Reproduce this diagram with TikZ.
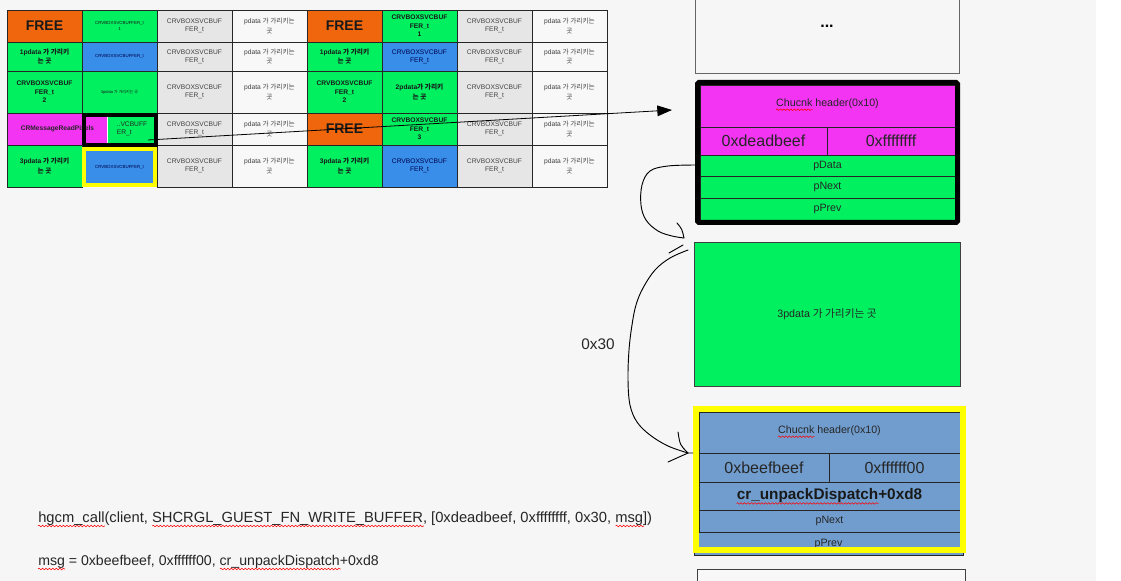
\documentclass[tikz,border=0pt]{standalone}
\usepackage{fontspec}
\setmainfont{Liberation Sans}
\newfontfamily\krfont{Noto Sans CJK KR}
\usetikzlibrary{arrows.meta,decorations.pathmorphing}
\definecolor{bgc}{RGB}{246,246,246}
\definecolor{cOr}{RGB}{240,102,12}
\definecolor{cGr}{RGB}{0,240,96}
\definecolor{cMg}{RGB}{243,52,243}
\definecolor{cBl}{RGB}{56,142,232}
\definecolor{cBg}{RGB}{112,157,206}
\definecolor{cGy}{RGB}{230,230,230}
\definecolor{cWh}{RGB}{248,248,248}
\definecolor{cYl}{RGB}{255,255,0}
\newcommand\kr[1]{{\krfont #1}}
\newcommand\fsz[2]{\fontsize{#1pt}{#2pt}\selectfont}
\newcommand\px[1]{#1*0.75pt}
\begin{document}
\begin{tikzpicture}[x=0.75pt,y=-0.75pt,
  cell/.style={draw=black!85, line width=0.6pt, inner sep=0pt, align=center, text=black!80, font=\fsz{5}{6}, minimum width=\px{75}},
  ha/.style={minimum height=\px{32}},
  hb/.style={minimum height=\px{29}},
  hc/.style={minimum height=\px{42}},
  bfree/.style={cell, fill=cOr, font=\bfseries\fsz{10.5}{12}, text=black!90},
  gcell/.style={cell, fill=cGr, font=\bfseries\fsz{5}{6.5}, text=black!90},
  tinyt/.style={font=\fsz{3.3}{4}},
  greyc/.style={cell, fill=cGy, text=black!75},
  whc/.style={cell, fill=cWh, text=black!75},
  bluec/.style={cell, fill=cBl, text=blue!30!black},
  rrow/.style={draw=black!85, line width=0.6pt, inner sep=0pt, align=center, font=\fsz{8}{9.6}, text=black!85},
  bigt/.style={font=\fsz{12}{14}},
  hand/.style={line width=0.7pt, black, line cap=round, line join=round},
  wavy/.style={red, line width=0.4pt, decorate, decoration={snake, amplitude=0.6pt, segment length=2.6pt}},
  plain/.style={inner sep=0pt, anchor=base west, text=black!85},
  ph/.style={inner sep=0pt, anchor=base west}
]
\useasboundingbox (0,0) rectangle (1121,581);
\fill[white] (0,0) rectangle (1121,581);
\fill[bgc] (0,0) rectangle (1096,581);

% ---------------- grid -----------------
\foreach \r/\y/\h in {1/26/ha,2/56.5/hb,3/92/hc,4/129/ha,5/166/hc}{
  \node[greyc,\h] (g\r c) at (194.5,\y) {CRVBOXSVCBUF\\FER\_t};
  \node[whc,\h,font=\fsz{5}{7}] (g\r d) at (269.5,\y) {pdata \kr{가 가리키는}\\\kr{곳}};
  \node[greyc,\h] (g\r g) at (494.5,\y) {CRVBOXSVCBUF\\FER\_t};
  \node[whc,\h,font=\fsz{5}{7}] (g\r h) at (569.5,\y) {pdata \kr{가 가리키는}\\\kr{곳}};
}
% row 1
\node[bfree,ha] (g1a) at (44.5,26) {FREE};
\node[gcell,ha,tinyt] (g1b) at (119.5,26) {CRVBOXSVCBUFFER\_t\\1};
\node[bfree,ha] (g1e) at (344.5,26) {FREE};
\node[gcell,ha] (g1f) at (419.5,26) {CRVBOXSVCBUF\\FER\_t\\1};
% row 2
\node[gcell,hb,font=\bfseries\fsz{5}{7}] (g2a) at (44.5,56.5) {1pdata \kr{가 가리키}\\\kr{는 곳}};
\node[bluec,hb,tinyt] (g2b) at (119.5,56.5) {CRVBOXSVCBUFFER\_t};
\node[gcell,hb,font=\bfseries\fsz{5}{7}] (g2e) at (344.5,56.5) {1pdata \kr{가 가리키}\\\kr{는 곳}};
\node[bluec,hb] (g2f) at (419.5,56.5) {CRVBOXSVCBUF\\FER\_t};
% row 3
\node[gcell,hc] (g3a) at (44.5,92) {CRVBOXSVCBUF\\FER\_t\\2};
\node[gcell,hc,font=\fsz{3}{4}] (g3b) at (119.5,92) {3pdata \kr{가 가리키는 곳}};
\node[gcell,hc] (g3e) at (344.5,92) {CRVBOXSVCBUF\\FER\_t\\2};
\node[gcell,hc,font=\bfseries\fsz{5}{7}] (g3f) at (419.5,92) {2pdata\kr{가 가리키}\\\kr{는 곳}};
% row 4
\node[cell,ha,fill=cMg] (g4a) at (44.5,129) {};
\node[cell,ha,fill=cMg,minimum width=\px{25},draw=none] (g4bm) at (94.5,129) {};
\node[cell,ha,fill=cGr,minimum width=\px{49},draw=none] (g4bg) at (132.5,129) {};
\draw[white, line width=1pt] (g4bg.north west) -- (g4bg.south west);
\node[inner sep=0pt, font=\bfseries\fsz{5}{6}, text=black!85] (g4at) at (57.5,129) {CRMessageReadPixels};
\node[inner sep=0pt, align=left, font=\fsz{5}{6}, text=black!85] (g4bt) at (132,129) {..VCBUFF\\ER\_t};
\draw[black, line width=2.6pt] (84,115) rectangle (156,145);
\node[bfree,ha] (g4e) at (344.5,129) {FREE};
\node[gcell,ha] (g4f) at (419.5,129) {CRVBOXSVCBUF\\FER\_t\\3};
% row 5
\node[gcell,hc,font=\bfseries\fsz{5}{7}] (g5a) at (44.5,166) {3pdata \kr{가 가리키}\\\kr{는 곳}};
\node[bluec,hc,tinyt,draw=cYl,line width=3pt,minimum width=\px{71},minimum height=\px{36}] (g5b) at (119.5,167) {CRVBOXSVCBUFFER\_t};
\node[gcell,hc,font=\bfseries\fsz{5}{7}] (g5e) at (344.5,166) {3pdata \kr{가 가리키}\\\kr{는 곳}};
\node[bluec,hc] (g5f) at (419.5,166) {CRVBOXSVCBUF\\FER\_t};

% ---------------- right column -----------------
\node[draw=black!60, line width=0.6pt, fill=bgc, minimum width=\px{264}, minimum height=\px{76}, inner sep=0pt] (dots) at (827,35) {};
\node[inner sep=0pt, font=\bfseries\fsz{12}{14}] (dotst) at (827,26) {...};

% chunk 1
\node[rrow, fill=cMg, minimum width=\px{255}, minimum height=\px{42}] (h1) at (827.5,106) {};
\node[inner sep=0pt, font=\fsz{8}{9.6}, text=black!85] (h1t) at (827.5,104) {Chucnk header(0x10)};
\node[ph] (h1w) at (h1t.base west) {\fsz{8}{9.6}\phantom{Chucnk}};
\node[rrow, fill=cMg, bigt, minimum width=\px{127}, minimum height=\px{28}] (dead) at (763.5,141) {0xdeadbeef};
\node[rrow, fill=cMg, bigt, minimum width=\px{128}, minimum height=\px{28}] (fff) at (891,141) {0xffffffff};
\node[rrow, fill=cGr, minimum width=\px{255}, minimum height=\px{21}] (pdata) at (827.5,165.5) {pData};
\node[rrow, fill=cGr, minimum width=\px{255}, minimum height=\px{22}] (pnext1) at (827.5,187) {pNext};
\node[rrow, fill=cGr, minimum width=\px{255}, minimum height=\px{22}] (pprev1) at (827.5,209) {pPrev};
\draw[black, line width=3.75pt, rounded corners=1pt] (697.5,82.5) rectangle (957.5,222.5);

% green chunk
\node[rrow, fill=cGr, draw=black!75, minimum width=\px{266}, minimum height=\px{144}] (g3box) at (827,314) {3pdata \kr{가 가리키는 곳}};

% chunk 2
\node[rrow, fill=cBg, minimum width=\px{269}, minimum height=\px{23}] (pprev2) at (828.5,543.5) {pPrev};
\node[rrow, fill=cBg, minimum width=\px{261}, minimum height=\px{41}] (h2) at (829.5,432.5) {};
\node[inner sep=0pt, font=\fsz{8}{9.6}, text=black!85] (h2t) at (829.5,431) {Chucnk header(0x10)};
\node[ph] (h2w) at (h2t.base west) {\fsz{8}{9.6}\phantom{Chucnk}};
\node[rrow, fill=cBg, bigt, minimum width=\px{130}, minimum height=\px{29}] (beef) at (764,467.5) {0xbeefbeef};
\node[rrow, fill=cBg, bigt, minimum width=\px{131}, minimum height=\px{29}] (ff00) at (894.5,467.5) {0xffffff00};
\node[rrow, fill=cBg, minimum width=\px{261}, minimum height=\px{28}] (crun) at (829.5,496) {};
\node[inner sep=0pt, font=\bfseries\fsz{11.5}{13}, text=black!90] (crunt) at (829.5,496) {cr\_unpackDispatch+0xd8};
\node[ph] (crunw) at (crunt.base west) {\bfseries\fsz{11.5}{13}\phantom{cr\_unpackDispatch}};
\node[rrow, fill=cBg, minimum width=\px{261}, minimum height=\px{22}] (pnext2) at (829.5,521) {pNext};
\draw[cYl, line width=4.5pt] (696,409) rectangle (963,550);

% bottom partial box
\node[draw=black!75, line width=0.6pt, fill=cWh, minimum width=\px{268}, minimum height=\px{30}, inner sep=0pt] (botbox) at (831,584) {};

% wavy underlines in boxes
\draw[wavy] ([yshift=-2.2pt]h1w.base west) -- ([yshift=-2.2pt]h1w.base east);
\draw[wavy] ([yshift=-2.2pt]h2w.base west) -- ([yshift=-2.2pt]h2w.base east);
\draw[wavy] ([yshift=-2.6pt]crunw.base west) -- ([yshift=-2.6pt]crunw.base east);

% ---------------- arrow -----------------
\coordinate (astart) at (148,140);
\coordinate (atip) at (672,110);
\draw[line width=0.6pt, -{Triangle[length=11pt,width=8pt]}] (astart) -- (atip);

% ---------------- hand-drawn curves -----------------
\draw[hand] plot[smooth, tension=0.6] coordinates {(696,165) (668,166) (650,171) (642,185) (641,205) (646,220) (658,231) (672,236) (684,238)};
\draw[hand] (677,223) .. controls (682,229) .. (684,238);
\draw[hand] (683,245) -- (669,253);
\draw[hand] plot[smooth, tension=0.6] coordinates {(688,250) (670,258) (655,270) (643,288) (636,305) (632,325) (629,350) (628,380) (630,405) (637,422) (650,435) (668,446) (688,453)};
\draw[hand] (678,432) .. controls (680,445) .. (688,453);
\draw[hand] (668,462) -- (688,453) -- (693,453);
\node[inner sep=0pt, font=\fsz{11.5}{13}, text=black!85] (l30) at (598,344) {0x30};

% ---------------- bottom text -----------------
\node[plain,font=\fsz{11.05}{13}] (ln1) at (38,522) {hgcm\_call(client, SHCRGL\_GUEST\_FN\_WRITE\_BUFFER, [0xdeadbeef, 0xffffffff, 0x30, msg])};
\node[ph,font=\fsz{11.05}{13}] (w1) at (ln1.base west) {\phantom{hgcm\_call}};
\node[ph,font=\fsz{11.05}{13}] (p2) at (ln1.base west) {\phantom{hgcm\_call(client,\ }};
\node[ph,font=\fsz{11.05}{13}] (w2) at (p2.base east) {\phantom{SHCRGL\_GUEST\_FN\_WRITE\_BUFFER}};
\node[ph,font=\fsz{11.05}{13}] (p3) at (ln1.base west) {\phantom{hgcm\_call(client, SHCRGL\_GUEST\_FN\_WRITE\_BUFFER, [0xdeadbeef, 0xffffffff, 0x30,\ }};
\node[ph,font=\fsz{11.05}{13}] (w3) at (p3.base east) {\phantom{msg}};
\node[plain,font=\fsz{10.6}{13}] (ln2) at (38,565) {msg = 0xbeefbeef, 0xffffff00, cr\_unpackDispatch+0xd8};
\node[ph,font=\fsz{10.6}{13}] (w4) at (ln2.base west) {\phantom{msg}};
\node[ph,font=\fsz{10.6}{13}] (p5) at (ln2.base west) {\phantom{msg = 0xbeefbeef, 0xffffff00,\ }};
\node[ph,font=\fsz{10.6}{13}] (w5) at (p5.base east) {\phantom{cr\_unpackDispatch}};
\foreach \w in {w1,w2,w3,w4,w5}{
  \draw[wavy] ([yshift=-3pt]\w.base west) -- ([yshift=-3pt]\w.base east);
}
\end{tikzpicture}
\end{document}
